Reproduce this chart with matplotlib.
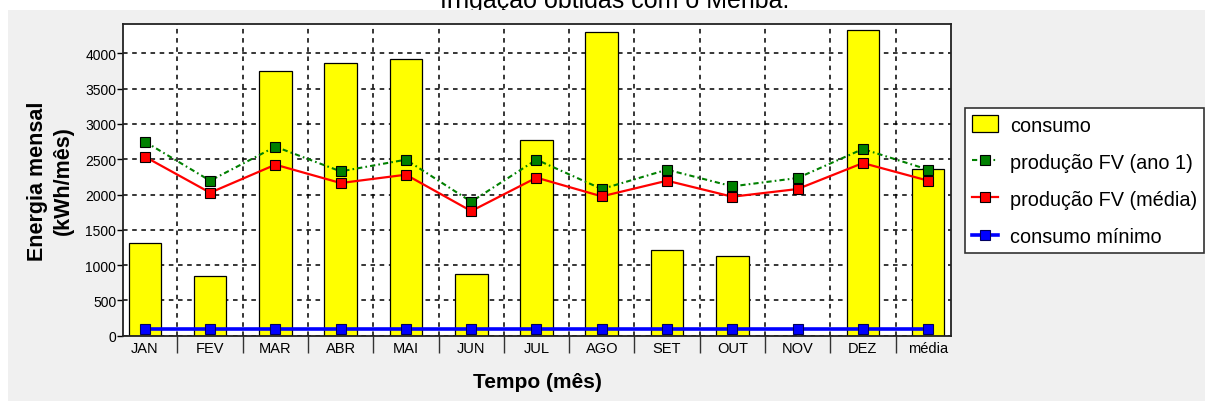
"""Consumo x producao FV mensal (grafico de barras + linhas)."""

import numpy as np
import matplotlib
matplotlib.use("Agg")
import matplotlib.pyplot as plt
from matplotlib.patches import Rectangle
from matplotlib.ticker import MultipleLocator, FixedLocator

plt.rcParams['font.family'] = ['Liberation Sans', 'DejaVu Sans']

meses = ["JAN", "FEV", "MAR", "ABR", "MAI", "JUN", "JUL", "AGO",
         "SET", "OUT", "NOV", "DEZ", "média"]
consumo = [1310, 845, 3745, 3863, 3915, 874, 2777, 4307, 1214, 1133, 0, 4331, 2366]
producao_ano1 = [2749, 2196, 2678, 2328, 2494, 1898, 2494, 2078, 2352, 2116, 2234, 2645, 2352]
producao_media = [2536, 2026, 2423, 2163, 2281, 1766, 2239, 1974, 2196, 1969, 2078, 2446, 2196]
consumo_minimo = [100] * 13

fig = plt.figure(figsize=(12.05, 4.02), dpi=100)
fig.patch.set_facecolor("white")

# painel cinza (janela do programa)
fig.patches.append(Rectangle((8 / 1205, 0), 1, 1 - 11 / 402, transform=fig.transFigure,
                             facecolor="#f0f0f0", edgecolor="none", zorder=-1))
# legenda cortada do documento, no topo
fig.text(0.51, 1 - 8 / 402, "Irrigação obtidas com o Merlba.", ha="center",
         va="baseline", fontsize=18, color="black", zorder=-2)

ax = fig.add_axes([123.3 / 1205, 1 - 336.7 / 402, (951 - 123.3) / 1205, (336.7 - 25) / 402])
ax.set_facecolor("white")

x = np.arange(len(meses))
barras = ax.bar(x, consumo, width=0.5, color="#ffff00", edgecolor="black", linewidth=0.9,
                label="consumo", zorder=2)
l1, = ax.plot(x, producao_ano1, color="#008000", linewidth=1.5, linestyle=(0, (2.5, 1.5, 0.8, 1.5)),
              marker="s", markersize=7.5, markerfacecolor="#008000", markeredgecolor="black",
              markeredgewidth=0.8, label="produção FV (ano 1)", zorder=3)
l2, = ax.plot(x, producao_media, color="#ff0000", linewidth=1.6,
              marker="s", markersize=7.5, markerfacecolor="#ff0000", markeredgecolor="black",
              markeredgewidth=0.8, label="produção FV (média)", zorder=4)
l3, = ax.plot(x, consumo_minimo, color="#0000ff", linewidth=2.6,
              marker="s", markersize=7.5, markerfacecolor="#0000ff", markeredgecolor="#000060",
              markeredgewidth=0.8, label="consumo mínimo", zorder=5)

ax.set_xlim(-0.33, 12.35)
ax.set_ylim(0, 4416)

ax.set_xticks(x)
ax.set_xticklabels(meses, fontsize=10.5)
ax.xaxis.set_minor_locator(FixedLocator(x[:-1] + 0.5))
ax.tick_params(axis="x", which="major", length=0, pad=4)
ax.tick_params(axis="x", which="minor", length=12, width=1, color="#333333", direction="out")
ax.yaxis.set_major_locator(MultipleLocator(500))
ax.tick_params(axis="y", which="major", length=4, width=1, labelsize=10, pad=1)

ax.set_axisbelow(True)
ax.grid(which="minor", axis="x", color="black", linestyle=(0, (3, 3)), linewidth=1.1)
ax.grid(which="major", axis="y", color="black", linestyle=(0, (3, 3)), linewidth=1.1)
for sp in ax.spines.values():
    sp.set_linewidth(1.3)
    sp.set_color("#222222")

ax.set_xlabel("Tempo (mês)", fontsize=15, fontweight="bold", labelpad=11)
ax.set_ylabel("Energia mensal\n(kWh/mês)", fontsize=15.5, fontweight="bold",
              labelpad=8, linespacing=1.3)

leg = fig.legend(handles=[barras, l1, l2, l3], loc="upper left",
                 bbox_to_anchor=(965 / 1205, 1 - 109.3 / 402),
                 bbox_transform=fig.transFigure, borderaxespad=0, fontsize=14.3,
                 fancybox=False, framealpha=1, edgecolor="#333333",
                 handlelength=1.3, handleheight=0.95, handletextpad=0.6,
                 labelspacing=0.9, borderpad=0.35)
leg.get_frame().set_linewidth(1.2)

fig.savefig("out.png", dpi=100)
